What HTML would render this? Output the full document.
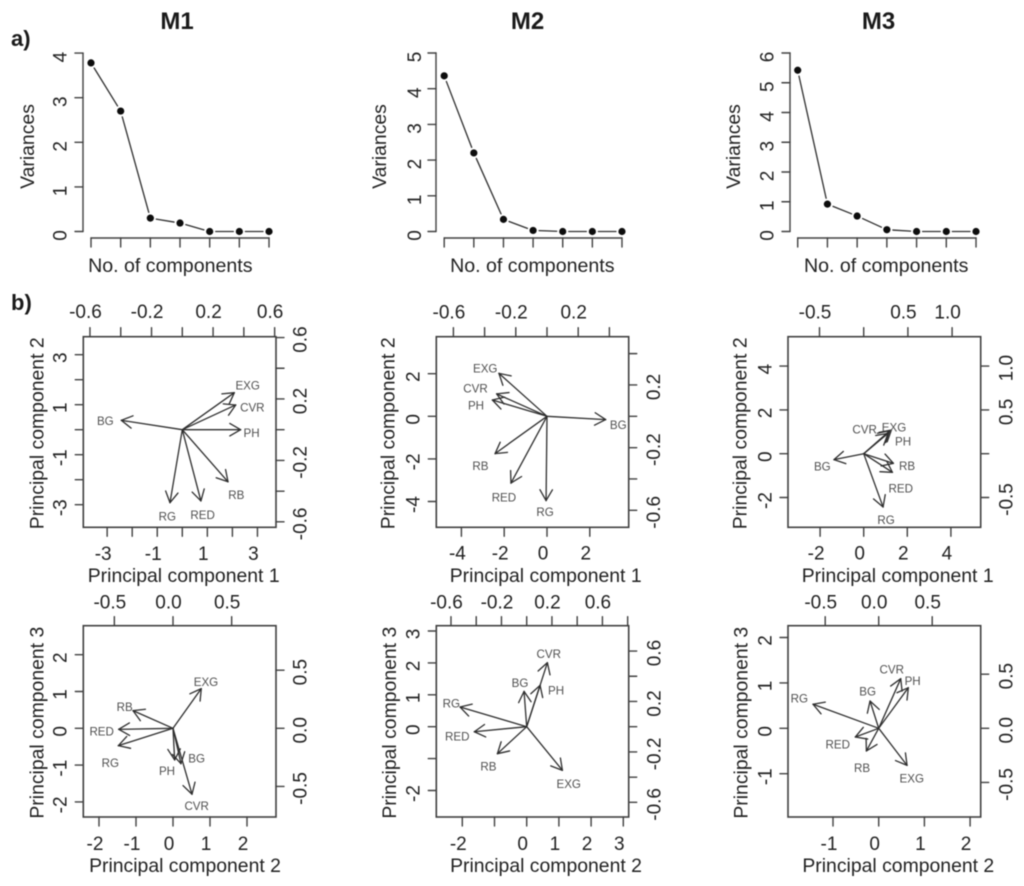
<!DOCTYPE html>
<html lang="en">
<head>
<meta charset="utf-8">
<title>PCA scree plots and biplots for M1, M2 and M3</title>
<style>
html,body{margin:0;padding:0;background:#fff;}
#figure{display:block;width:1024px;height:886px;filter:blur(0.55px);font-family:"Liberation Sans",sans-serif;}
</style>
</head>
<body>
<svg id="figure" xmlns="http://www.w3.org/2000/svg" width="1024" height="886" viewBox="0 0 1024 886">
  <rect x="0" y="0" width="1024" height="886" fill="#fff"/>
  <text x="177" y="29" text-anchor="middle" font-size="24" font-weight="700" fill="#1a1a1a">M1</text>
  <text x="527.5" y="29" text-anchor="middle" font-size="24" font-weight="700" fill="#1a1a1a">M2</text>
  <text x="878.5" y="29" text-anchor="middle" font-size="24" font-weight="700" fill="#1a1a1a">M3</text>
  <text x="11" y="46" font-size="22" font-weight="700" fill="#1a1a1a">a)</text>
  <text x="11" y="310" font-size="22" font-weight="700" fill="#1a1a1a">b)</text>
</svg>
<script>
// ---------- Scree plot data ----------
const screeComponents = [1, 2, 3, 4, 5, 6, 7];
const screeM1Values = [3.78, 2.70, 0.30, 0.19, 0.0, 0.0, 0.0];
const screeM2Values = [4.36, 2.20, 0.34, 0.03, 0.0, 0.0, 0.0];
const screeM3Values = [5.42, 0.92, 0.52, 0.06, 0.0, 0.0, 0.0];
const screeM1Ticks = [0, 1, 2, 3, 4];
const screeM2Ticks = [0, 1, 2, 3, 4, 5];
const screeM3Ticks = [0, 1, 2, 3, 4, 5, 6];

// ---------- Biplot data: variables ----------
const variableNames = ['EXG', 'CVR', 'PH', 'RB', 'RED', 'RG', 'BG'];

// M1, PC1 vs PC2 (arrow tips read on the top/right axes)
const m1Pc12ArrowX = [0.338, 0.347, 0.379, 0.297, 0.121, -0.080, -0.396];
const m1Pc12ArrowY = [0.241, 0.161, 0.000, -0.339, -0.464, -0.475, 0.061];
const m1Pc12LabelGapX = [0.087, 0.108, 0.071, 0.054, 0.011, -0.017, -0.104];
const m1Pc12LabelGapY = [0.046, -0.017, -0.020, -0.087, -0.091, -0.089, -0.004];

// M2, PC1 vs PC2
const m2Pc12ArrowX = [-0.308, -0.323, -0.350, -0.333, -0.231, -0.006, 0.376];
const m2Pc12ArrowY = [0.274, 0.143, 0.104, -0.238, -0.426, -0.538, -0.021];
const m2Pc12LabelGapX = [-0.088, -0.135, -0.105, -0.094, -0.045, -0.006, 0.081];
const m2Pc12LabelGapY = [0.032, 0.036, -0.036, -0.079, -0.091, -0.072, -0.034];

// M3, PC1 vs PC2
const m3Pc12ArrowX = [0.313, 0.294, 0.275, 0.336, 0.325, 0.219, -0.336];
const m3Pc12ArrowY = [0.270, 0.262, 0.232, -0.110, -0.213, -0.608, -0.068];
const m3Pc12LabelGapX = [0.030, -0.283, 0.170, 0.155, 0.094, 0.034, -0.132];
const m3Pc12LabelGapY = [0.030, 0.015, -0.095, -0.030, -0.183, -0.148, -0.080];

// M1, PC2 vs PC3
const m1Pc23ArrowX = [0.241, 0.162, 0.014, -0.341, -0.463, -0.466, 0.068];
const m1Pc23ArrowY = [0.341, -0.567, -0.272, 0.152, -0.009, -0.149, -0.304];
const m1Pc23LabelGapX = [0.040, 0.040, -0.065, -0.071, -0.145, -0.068, 0.134];
const m1Pc23LabelGapY = [0.057, -0.103, -0.097, 0.029, -0.017, -0.149, 0.043];

// M2, PC2 vs PC3
const m2Pc23ArrowX = [0.283, 0.164, 0.106, -0.232, -0.415, -0.528, -0.021];
const m2Pc23ArrowY = [-0.346, 0.508, 0.328, -0.214, -0.040, 0.156, 0.280];
const m2Pc23LabelGapX = [0.050, 0.011, 0.127, -0.071, -0.135, -0.069, -0.032];
const m2Pc23LabelGapY = [-0.108, 0.069, -0.040, -0.100, -0.037, 0.029, 0.066];

// M3, PC2 vs PC3
const m3Pc23ArrowX = [0.265, 0.206, 0.277, -0.115, -0.218, -0.614, -0.081];
const m3Pc23ArrowY = [-0.342, 0.458, 0.375, -0.209, -0.080, 0.222, 0.252];
const m3Pc23LabelGapX = [0.044, -0.084, 0.040, -0.040, -0.165, -0.128, -0.022];
const m3Pc23LabelGapY = [-0.123, 0.086, 0.062, -0.157, -0.068, 0.055, 0.089];

// ---------- Biplot data: axis ticks ----------
const m1Pc12BottomTicks = [-3, -2, -1, 0, 1, 2, 3];
const m1Pc12BottomLabels = ['-3', '', '-1', '', '1', '', '3'];
const m1Pc12LeftTicks = [-3, -2, -1, 0, 1, 2, 3];
const m1Pc12LeftLabels = ['-3', '', '-1', '', '1', '', '3'];
const m1Pc12TopTicks = [-0.6, -0.4, -0.2, 0, 0.2, 0.4, 0.6];
const m1Pc12TopLabels = ['-0.6', '', '-0.2', '', '0.2', '', '0.6'];
const m1Pc12RightTicks = [-0.6, -0.4, -0.2, 0, 0.2, 0.4, 0.6];
const m1Pc12RightLabels = ['-0.6', '', '-0.2', '', '0.2', '', '0.6'];

const m2Pc12BottomTicks = [-4, -2, 0, 2];
const m2Pc12BottomLabels = ['-4', '-2', '0', '2'];
const m2Pc12LeftTicks = [-4, -2, 0, 2];
const m2Pc12LeftLabels = ['-4', '-2', '0', '2'];
const m2Pc12TopTicks = [-0.6, -0.4, -0.2, 0, 0.2, 0.4];
const m2Pc12TopLabels = ['-0.6', '', '-0.2', '', '0.2', ''];
const m2Pc12RightTicks = [-0.6, -0.4, -0.2, 0, 0.2, 0.4];
const m2Pc12RightLabels = ['-0.6', '', '-0.2', '', '0.2', ''];

const m3Pc12BottomTicks = [-2, 0, 2, 4];
const m3Pc12BottomLabels = ['-2', '0', '2', '4'];
const m3Pc12LeftTicks = [-2, 0, 2, 4];
const m3Pc12LeftLabels = ['-2', '0', '2', '4'];
const m3Pc12TopTicks = [-0.5, 0, 0.5, 1];
const m3Pc12TopLabels = ['-0.5', '', '0.5', '1.0'];
const m3Pc12RightTicks = [-0.5, 0, 0.5, 1];
const m3Pc12RightLabels = ['-0.5', '', '0.5', '1.0'];

const m1Pc23BottomTicks = [-2, -1, 0, 1, 2];
const m1Pc23BottomLabels = ['-2', '-1', '0', '1', '2'];
const m1Pc23LeftTicks = [-2, -1, 0, 1, 2];
const m1Pc23LeftLabels = ['-2', '-1', '0', '1', '2'];
const m1Pc23TopTicks = [-0.5, 0, 0.5];
const m1Pc23TopLabels = ['-0.5', '0.0', '0.5'];
const m1Pc23RightTicks = [-0.5, 0, 0.5];
const m1Pc23RightLabels = ['-0.5', '0.0', '0.5'];

const m2Pc23BottomTicks = [-2, -1, 0, 1, 2, 3];
const m2Pc23BottomLabels = ['-2', '', '0', '1', '2', '3'];
const m2Pc23LeftTicks = [-2, -1, 0, 1, 2, 3];
const m2Pc23LeftLabels = ['-2', '', '0', '1', '2', '3'];
const m2Pc23TopTicks = [-0.6, -0.4, -0.2, 0, 0.2, 0.4, 0.6, 0.8];
const m2Pc23TopLabels = ['-0.6', '', '-0.2', '', '0.2', '', '0.6', ''];
const m2Pc23RightTicks = [-0.6, -0.4, -0.2, 0, 0.2, 0.4, 0.6];
const m2Pc23RightLabels = ['-0.6', '', '-0.2', '', '0.2', '', '0.6'];

const m3Pc23BottomTicks = [-1, 0, 1, 2];
const m3Pc23BottomLabels = ['-1', '0', '1', '2'];
const m3Pc23LeftTicks = [-1, 0, 1, 2];
const m3Pc23LeftLabels = ['-1', '0', '1', '2'];
const m3Pc23TopTicks = [-0.5, 0, 0.5];
const m3Pc23TopLabels = ['-0.5', '0.0', '0.5'];
const m3Pc23RightTicks = [-0.5, 0, 0.5];
const m3Pc23RightLabels = ['-0.5', '0.0', '0.5'];

// ---------- Rendering ----------
const svg = document.getElementById('figure');
const NS = 'http://www.w3.org/2000/svg';
const INK = '#2e2e2e';
const AXIS_INK = '#404040';
const TEXT_INK = '#222';

function make(tag, attrs, parent) {
  const el = document.createElementNS(NS, tag);
  for (const k in attrs) el.setAttribute(k, attrs[k]);
  (parent || svg).appendChild(el);
  return el;
}
function seg(parent, x1, y1, x2, y2, color, width) {
  return make('line', { x1: x1, y1: y1, x2: x2, y2: y2, stroke: color, 'stroke-width': width, 'stroke-linecap': 'round' }, parent);
}
function txt(parent, s, x, y, size, color, anchor, rotate) {
  const el = make('text', { x: x, y: y, 'font-size': size, fill: color, 'text-anchor': anchor || 'middle' }, parent);
  if (rotate) el.setAttribute('transform', 'rotate(' + rotate + ' ' + x + ' ' + y + ')');
  el.textContent = s;
  return el;
}

// Scree plots
function drawScree(cfg) {
  const g = make('g', {});
  
  
  const sx = v => cfg.xStart + (v - 1) * cfg.xStep;
  const sy = v => cfg.y0 - v * cfg.yUnit;
  const ticksY = cfg.ticks;
  const top = ticksY[ticksY.length - 1];

  const yAxis = make('g', {}, g);
  
  
  seg(yAxis, cfg.axisX, sy(0), cfg.axisX, sy(top), AXIS_INK, 1.4);
  ticksY.forEach(t => {
    seg(yAxis, cfg.axisX - 8, sy(t), cfg.axisX, sy(t), AXIS_INK, 1.4);
    const lab = txt(yAxis, String(t), cfg.labelX, sy(t) + 4, 19, TEXT_INK, 'middle', -90);
    
    
  });

  const xAxis = make('g', {}, g);
  
  
  seg(xAxis, sx(screeComponents[0]), 238, sx(screeComponents[screeComponents.length - 1]), 238, AXIS_INK, 1.4);
  screeComponents.forEach(c => seg(xAxis, sx(c), 238, sx(c), 247, AXIS_INK, 1.4));

  const yTitle = txt(g, 'Variances', cfg.titleX, 146.5, 19.4, TEXT_INK, 'middle', -90);
  
  
  const xTitle = txt(g, 'No. of components', cfg.xTitleX, 272, 19.6, TEXT_INK);
  
  

  const gap = 6;
  cfg.values.forEach((v, i) => {
    if (i < cfg.values.length - 1) {
      const x1 = sx(screeComponents[i]), y1 = sy(v);
      const x2 = sx(screeComponents[i + 1]), y2 = sy(cfg.values[i + 1]);
      const d = Math.hypot(x2 - x1, y2 - y1);
      const ux = (x2 - x1) / d, uy = (y2 - y1) / d;
      const line = seg(g, x1 + ux * gap, y1 + uy * gap, x2 - ux * gap, y2 - uy * gap, INK, 1.3);
      
      
    }
  });
  cfg.values.forEach((v, i) => {
    const dot = make('circle', { cx: sx(screeComponents[i]), cy: sy(v), r: 3.6, fill: '#0d0d0d' }, g);
    
    
  });
}

drawScree({ name: 'scree-plot-m1', values: screeM1Values, ticks: screeM1Ticks, xStart: 91, xStep: 29.67, y0: 231.5, yUnit: 44.6, axisX: 83, labelX: 66.5, titleX: 34, xTitleX: 170.3 });
drawScree({ name: 'scree-plot-m2', values: screeM2Values, ticks: screeM2Ticks, xStart: 444.2, xStep: 29.63, y0: 231.5, yUnit: 35.7, axisX: 436, labelX: 421, titleX: 386, xTitleX: 532.3 });
drawScree({ name: 'scree-plot-m3', values: screeM3Values, ticks: screeM3Ticks, xStart: 797.7, xStep: 29.72, y0: 231.5, yUnit: 29.75, axisX: 790, labelX: 773.6, titleX: 740, xTitleX: 886.2 });

// Biplots
function drawBiplot(cfg) {
  const g = make('g', {});
  
  

  // primary (score) axes: bottom and left; secondary (loading) axes: top and right
  const scoreX = v => cfg.cx + v * cfg.scoreUx;
  const scoreY = v => cfg.cy - v * cfg.scoreUy;
  const loadX = v => cfg.cx + v * cfg.loadUx;
  const loadY = v => cfg.cy - v * cfg.loadUy;

  const box = make('rect', { x: cfg.left, y: cfg.top, width: cfg.right - cfg.left, height: cfg.bottom - cfg.top, fill: 'none', stroke: AXIS_INK, 'stroke-width': 1.6 }, g);
  
  

  const bottomAxis = make('g', {}, g);
  
  
  cfg.bottomTicks.forEach((t, i) => {
    seg(bottomAxis, scoreX(t), cfg.bottom, scoreX(t), cfg.bottom + 9, AXIS_INK, 1.4);
    if (cfg.bottomLabels[i]) txt(bottomAxis, cfg.bottomLabels[i], scoreX(t) - 4, cfg.bottomBase, 19, TEXT_INK);
  });
  const topAxis = make('g', {}, g);
  
  
  cfg.topTicks.forEach((t, i) => {
    seg(topAxis, loadX(t), cfg.top - 9, loadX(t), cfg.top, AXIS_INK, 1.4);
    if (cfg.topLabels[i]) txt(topAxis, cfg.topLabels[i], loadX(t) - 4.5, cfg.topBase, 19, TEXT_INK);
  });
  const leftAxis = make('g', {}, g);
  
  
  cfg.leftTicks.forEach((t, i) => {
    seg(leftAxis, cfg.left - 8, scoreY(t), cfg.left, scoreY(t), AXIS_INK, 1.4);
    if (cfg.leftLabels[i]) txt(leftAxis, cfg.leftLabels[i], cfg.leftBase, scoreY(t) + 3, 19, TEXT_INK, 'middle', -90);
  });
  const rightAxis = make('g', {}, g);
  
  
  cfg.rightTicks.forEach((t, i) => {
    seg(rightAxis, cfg.right, loadY(t), cfg.right + 8, loadY(t), AXIS_INK, 1.4);
    if (cfg.rightLabels[i]) txt(rightAxis, cfg.rightLabels[i], cfg.rightBase, loadY(t) + 2, 19, TEXT_INK, 'middle', -90);
  });

  const xTitle = txt(g, cfg.xTitle, cfg.xTitleX, cfg.xTitleY, 19.4, TEXT_INK);
  
  
  const yTitle = txt(g, cfg.yTitle, cfg.yTitleX, cfg.yTitleY, 19.4, TEXT_INK, 'middle', -90);
  
  

  const barb = 12.5, spread = Math.PI / 6;
  variableNames.forEach((nm, i) => {
    const tipX = loadX(cfg.arrowX[i]), tipY = loadY(cfg.arrowY[i]);
    const arrow = make('g', {}, g);
    
    
    seg(arrow, cfg.cx, cfg.cy, tipX, tipY, INK, 1.3);
    const ang = Math.atan2(cfg.cy - tipY, cfg.cx - tipX);
    seg(arrow, tipX, tipY, tipX + barb * Math.cos(ang + spread), tipY + barb * Math.sin(ang + spread), INK, 1.3);
    seg(arrow, tipX, tipY, tipX + barb * Math.cos(ang - spread), tipY + barb * Math.sin(ang - spread), INK, 1.3);
    const lx = loadX(cfg.arrowX[i] + cfg.gapX[i]), ly = loadY(cfg.arrowY[i] + cfg.gapY[i]);
    const lab = txt(g, nm, lx, ly + 4, 11.6, '#505050');
    
    
  });
}

drawBiplot({ name: 'biplot-m1-pc1-pc2', left: 83.3, right: 276, top: 336.7, bottom: 527.3, cx: 182.3, cy: 429.7,
  scoreUx: 25.05, scoreUy: 25, loadUx: 153.9, loadUy: 153.6,
  bottomBase: 560, topBase: 318, leftBase: 66.7, rightBase: 306.7,
  xTitle: 'Principal component 1', yTitle: 'Principal component 2', xTitleX: 183.7, xTitleY: 582, yTitleX: 43.3, yTitleY: 433.3,
  bottomTicks: m1Pc12BottomTicks, bottomLabels: m1Pc12BottomLabels, leftTicks: m1Pc12LeftTicks, leftLabels: m1Pc12LeftLabels,
  topTicks: m1Pc12TopTicks, topLabels: m1Pc12TopLabels, rightTicks: m1Pc12RightTicks, rightLabels: m1Pc12RightLabels,
  arrowX: m1Pc12ArrowX, arrowY: m1Pc12ArrowY, gapX: m1Pc12LabelGapX, gapY: m1Pc12LabelGapY });

drawBiplot({ name: 'biplot-m2-pc1-pc2', left: 436.3, right: 628.7, top: 336.7, bottom: 527.3, cx: 547, cy: 416.3,
  scoreUx: 21.4, scoreUy: 21.3, loadUx: 156, loadUy: 156.7,
  bottomBase: 559.3, topBase: 318.5, leftBase: 419.3, rightBase: 660,
  xTitle: 'Principal component 1', yTitle: 'Principal component 2', xTitleX: 545.7, xTitleY: 582, yTitleX: 394.3, yTitleY: 433.3,
  bottomTicks: m2Pc12BottomTicks, bottomLabels: m2Pc12BottomLabels, leftTicks: m2Pc12LeftTicks, leftLabels: m2Pc12LeftLabels,
  topTicks: m2Pc12TopTicks, topLabels: m2Pc12TopLabels, rightTicks: m2Pc12RightTicks, rightLabels: m2Pc12RightLabels,
  arrowX: m2Pc12ArrowX, arrowY: m2Pc12ArrowY, gapX: m2Pc12LabelGapX, gapY: m2Pc12LabelGapY });

drawBiplot({ name: 'biplot-m3-pc1-pc2', left: 788, right: 980.7, top: 336.7, bottom: 527.3, cx: 863.7, cy: 453.7,
  scoreUx: 21.8, scoreUy: 21.9, loadUx: 88.4, loadUy: 87.6,
  bottomBase: 559.3, topBase: 318.5, leftBase: 771.3, rightBase: 1012.3,
  xTitle: 'Principal component 1', yTitle: 'Principal component 2', xTitleX: 897.7, xTitleY: 582, yTitleX: 746.7, yTitleY: 433.3,
  bottomTicks: m3Pc12BottomTicks, bottomLabels: m3Pc12BottomLabels, leftTicks: m3Pc12LeftTicks, leftLabels: m3Pc12LeftLabels,
  topTicks: m3Pc12TopTicks, topLabels: m3Pc12TopLabels, rightTicks: m3Pc12RightTicks, rightLabels: m3Pc12RightLabels,
  arrowX: m3Pc12ArrowX, arrowY: m3Pc12ArrowY, gapX: m3Pc12LabelGapX, gapY: m3Pc12LabelGapY });

drawBiplot({ name: 'biplot-m1-pc2-pc3', left: 83.3, right: 276, top: 625.7, bottom: 817, cx: 173, cy: 728.3,
  scoreUx: 37, scoreUy: 36.8, loadUx: 117.3, loadUy: 116.3,
  bottomBase: 850, topBase: 608.7, leftBase: 66.7, rightBase: 306.7,
  xTitle: 'Principal component 2', yTitle: 'Principal component 3', xTitleX: 185, xTitleY: 872, yTitleX: 43.3, yTitleY: 722.7,
  bottomTicks: m1Pc23BottomTicks, bottomLabels: m1Pc23BottomLabels, leftTicks: m1Pc23LeftTicks, leftLabels: m1Pc23LeftLabels,
  topTicks: m1Pc23TopTicks, topLabels: m1Pc23TopLabels, rightTicks: m1Pc23RightTicks, rightLabels: m1Pc23RightLabels,
  arrowX: m1Pc23ArrowX, arrowY: m1Pc23ArrowY, gapX: m1Pc23LabelGapX, gapY: m1Pc23LabelGapY });

drawBiplot({ name: 'biplot-m2-pc2-pc3', left: 436.3, right: 628.7, top: 625.7, bottom: 817, cx: 526.7, cy: 726.7,
  scoreUx: 32.2, scoreUy: 31.9, loadUx: 126.2, loadUy: 126.1,
  bottomBase: 850, topBase: 608.7, leftBase: 419.3, rightBase: 660.7,
  xTitle: 'Principal component 2', yTitle: 'Principal component 3', xTitleX: 546, xTitleY: 872, yTitleX: 396, yTitleY: 722.7,
  bottomTicks: m2Pc23BottomTicks, bottomLabels: m2Pc23BottomLabels, leftTicks: m2Pc23LeftTicks, leftLabels: m2Pc23LeftLabels,
  topTicks: m2Pc23TopTicks, topLabels: m2Pc23TopLabels, rightTicks: m2Pc23RightTicks, rightLabels: m2Pc23RightLabels,
  arrowX: m2Pc23ArrowX, arrowY: m2Pc23ArrowY, gapX: m2Pc23LabelGapX, gapY: m2Pc23LabelGapY });

drawBiplot({ name: 'biplot-m3-pc2-pc3', left: 788, right: 980.7, top: 625.7, bottom: 817, cx: 878.7, cy: 728.3,
  scoreUx: 45.7, scoreUy: 45.4, loadUx: 107, loadUy: 108.3,
  bottomBase: 850, topBase: 608.7, leftBase: 771.3, rightBase: 1012.3,
  xTitle: 'Principal component 2', yTitle: 'Principal component 3', xTitleX: 898.3, xTitleY: 872, yTitleX: 747.3, yTitleY: 722.7,
  bottomTicks: m3Pc23BottomTicks, bottomLabels: m3Pc23BottomLabels, leftTicks: m3Pc23LeftTicks, leftLabels: m3Pc23LeftLabels,
  topTicks: m3Pc23TopTicks, topLabels: m3Pc23TopLabels, rightTicks: m3Pc23RightTicks, rightLabels: m3Pc23RightLabels,
  arrowX: m3Pc23ArrowX, arrowY: m3Pc23ArrowY, gapX: m3Pc23LabelGapX, gapY: m3Pc23LabelGapY });
</script>
</body>
</html>
